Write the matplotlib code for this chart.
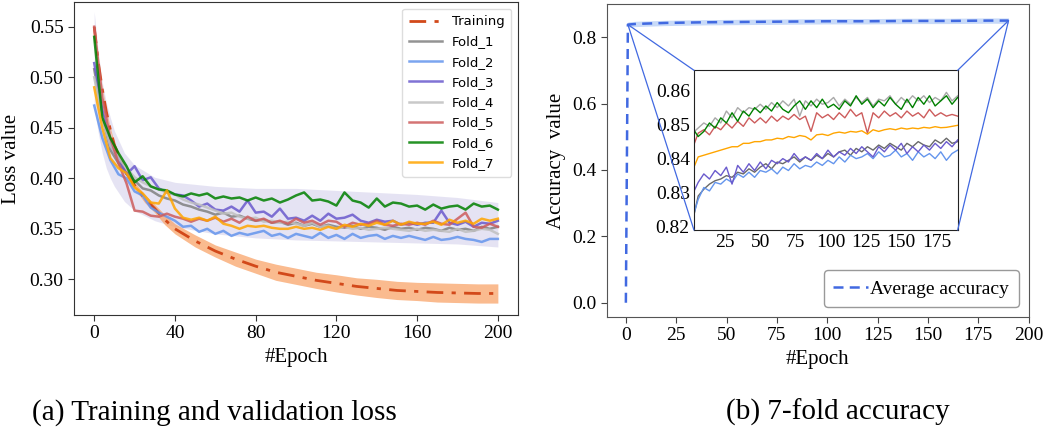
import numpy as np
import matplotlib
matplotlib.use("Agg")
import matplotlib.pyplot as plt
from matplotlib.patches import ConnectionPatch

plt.rcParams['font.family'] = 'Liberation Serif'

# ---------------- (a) loss data ----------------
fold_epochs = np.arange(0, 201, 4)

fold1 = [0.508, 0.462, 0.428, 0.415, 0.405, 0.398, 0.390, 0.388, 0.383, 0.380,
         0.378, 0.374, 0.372, 0.369, 0.367, 0.364, 0.366, 0.362, 0.363, 0.360,
         0.358, 0.359, 0.356, 0.357, 0.354, 0.356, 0.353, 0.355, 0.352, 0.354,
         0.352, 0.351, 0.353, 0.350, 0.352, 0.351, 0.349, 0.352, 0.350, 0.351,
         0.349, 0.351, 0.350, 0.348, 0.351, 0.349, 0.350, 0.348, 0.352, 0.350,
         0.352]
fold2 = [0.472, 0.440, 0.418, 0.404, 0.400, 0.387, 0.383, 0.371, 0.366, 0.362,
         0.358, 0.352, 0.353, 0.347, 0.350, 0.345, 0.348, 0.343, 0.346, 0.344,
         0.346, 0.348, 0.343, 0.345, 0.341, 0.345, 0.343, 0.341, 0.346, 0.341,
         0.344, 0.340, 0.345, 0.341, 0.343, 0.344, 0.340, 0.343, 0.341, 0.343,
         0.341, 0.339, 0.342, 0.339, 0.340, 0.342, 0.340, 0.339, 0.337, 0.340,
         0.340]
fold3 = [0.514, 0.468, 0.432, 0.420, 0.404, 0.412, 0.398, 0.401, 0.390, 0.386,
         0.384, 0.383, 0.378, 0.372, 0.375, 0.369, 0.368, 0.372, 0.367, 0.378,
         0.366, 0.367, 0.362, 0.370, 0.360, 0.361, 0.358, 0.363, 0.358, 0.365,
         0.360, 0.361, 0.364, 0.358, 0.356, 0.359, 0.357, 0.358, 0.354, 0.356,
         0.354, 0.356, 0.356, 0.368, 0.356, 0.354, 0.357, 0.352, 0.356, 0.355,
         0.358]
fold4 = [0.500, 0.460, 0.432, 0.420, 0.410, 0.401, 0.396, 0.392, 0.389, 0.386,
         0.384, 0.379, 0.376, 0.374, 0.371, 0.368, 0.365, 0.366, 0.362, 0.360,
         0.361, 0.357, 0.358, 0.356, 0.357, 0.355, 0.353, 0.356, 0.352, 0.353,
         0.350, 0.352, 0.350, 0.351, 0.349, 0.350, 0.351, 0.350, 0.349, 0.348,
         0.350, 0.348, 0.349, 0.348, 0.347, 0.350, 0.347, 0.348, 0.350, 0.349,
         0.345]
fold5 = [0.550, 0.480, 0.440, 0.415, 0.395, 0.368, 0.367, 0.363, 0.362, 0.365,
         0.362, 0.360, 0.357, 0.360, 0.358, 0.361, 0.357, 0.360, 0.356, 0.362,
         0.358, 0.360, 0.356, 0.358, 0.355, 0.360, 0.356, 0.358, 0.354, 0.358,
         0.357, 0.352, 0.356, 0.354, 0.355, 0.358, 0.354, 0.353, 0.355, 0.354,
         0.356, 0.354, 0.358, 0.355, 0.354, 0.360, 0.366, 0.352, 0.351, 0.355,
         0.352]
fold6 = [0.540, 0.460, 0.440, 0.425, 0.412, 0.396, 0.402, 0.392, 0.389, 0.388,
         0.384, 0.382, 0.385, 0.383, 0.385, 0.380, 0.382, 0.380, 0.381, 0.378,
         0.381, 0.378, 0.380, 0.376, 0.379, 0.383, 0.386, 0.378, 0.379, 0.377,
         0.373, 0.386, 0.378, 0.376, 0.371, 0.380, 0.372, 0.376, 0.375, 0.372,
         0.373, 0.369, 0.374, 0.370, 0.372, 0.373, 0.369, 0.375, 0.372, 0.373,
         0.369]
fold7 = [0.490, 0.450, 0.420, 0.410, 0.405, 0.391, 0.385, 0.376, 0.375, 0.388,
         0.370, 0.361, 0.359, 0.361, 0.358, 0.362, 0.355, 0.353, 0.350, 0.353,
         0.352, 0.353, 0.351, 0.350, 0.350, 0.352, 0.350, 0.351, 0.349, 0.352,
         0.350, 0.354, 0.352, 0.355, 0.353, 0.356, 0.354, 0.358, 0.354, 0.357,
         0.355, 0.355, 0.357, 0.354, 0.359, 0.356, 0.358, 0.355, 0.360, 0.358,
         0.360]
fold_loss = [fold1, fold2, fold3, fold4, fold5, fold6, fold7]
fold_names = ['Fold_1', 'Fold_2', 'Fold_3', 'Fold_4', 'Fold_5', 'Fold_6', 'Fold_7']
fold_colors = ['gray', 'cornflowerblue', 'slateblue', 'silver',
               'indianred', 'green', 'orange']

band_epochs = [0, 2, 4, 6, 8, 10, 15, 20, 30, 40, 60, 80, 100, 120, 140, 160, 180, 200]
band_hi = [0.565, 0.525, 0.495, 0.475, 0.460, 0.447, 0.425, 0.413, 0.401, 0.396,
           0.392, 0.390, 0.390, 0.388, 0.386, 0.384, 0.381, 0.376]
band_lo = [0.470, 0.445, 0.425, 0.410, 0.400, 0.392, 0.377, 0.368, 0.358, 0.352,
           0.345, 0.341, 0.339, 0.338, 0.337, 0.336, 0.335, 0.332]

train_epochs = [0, 2, 4, 6, 8, 10, 15, 20, 25, 30, 35, 40, 50, 60, 70, 80,
                90, 100, 110, 120, 130, 140, 150, 160, 170, 180, 190, 200]
train_loss = [0.550, 0.515, 0.488, 0.466, 0.448, 0.433, 0.408, 0.393, 0.380, 0.370,
              0.359, 0.350, 0.338, 0.328, 0.320, 0.313, 0.307, 0.303, 0.299, 0.296,
              0.293, 0.291, 0.289, 0.288, 0.287, 0.2865, 0.286, 0.286]
train_std = [0.002, 0.002, 0.002, 0.002, 0.002, 0.002, 0.003, 0.003, 0.004, 0.004,
             0.005, 0.005, 0.006, 0.006, 0.007, 0.007, 0.008, 0.008, 0.008, 0.0085,
             0.0085, 0.009, 0.009, 0.009, 0.0095, 0.0095, 0.0095, 0.0095]

# ---------------- (b) accuracy data ----------------
avg_epochs = [0, 1, 5, 10, 20, 30, 40, 60, 80, 100, 120, 140, 160, 180, 190]
avg_acc = [0.0, 0.838, 0.840, 0.841, 0.843, 0.844, 0.845, 0.846, 0.847, 0.848,
           0.848, 0.849, 0.849, 0.850, 0.850]
avg_std = [0.0, 0.008, 0.008, 0.008, 0.008, 0.008, 0.008, 0.008, 0.008, 0.008,
           0.008, 0.008, 0.008, 0.008, 0.008]

acc_epochs = np.arange(2, 191, 4)
acc_f1 = [0.8215, 0.829, 0.831, 0.8325, 0.8335, 0.834, 0.835, 0.8345, 0.836, 0.8355,
          0.837, 0.836, 0.8375, 0.8385, 0.837, 0.839, 0.8385, 0.8395, 0.8405, 0.839,
          0.8405, 0.8395, 0.841, 0.840, 0.8415, 0.8405, 0.842, 0.8425, 0.841, 0.843,
          0.842, 0.8435, 0.8425, 0.844, 0.843, 0.8445, 0.8435, 0.8425, 0.8445, 0.8435,
          0.845, 0.844, 0.8435, 0.8455, 0.8445, 0.846, 0.8445, 0.845]
acc_f2 = [0.8225, 0.828, 0.8315, 0.8305, 0.833, 0.8325, 0.834, 0.833, 0.8355, 0.8345,
          0.836, 0.8345, 0.8365, 0.836, 0.837, 0.8355, 0.8375, 0.8365, 0.8385, 0.837,
          0.838, 0.8375, 0.839, 0.838, 0.8395, 0.8385, 0.8405, 0.839, 0.841, 0.840,
          0.8405, 0.8415, 0.840, 0.842, 0.8405, 0.841, 0.8425, 0.8405, 0.8415, 0.8395,
          0.842, 0.8405, 0.8415, 0.840, 0.842, 0.8395, 0.8415, 0.8425]
acc_f3 = [0.8295, 0.833, 0.8355, 0.834, 0.8365, 0.835, 0.8375, 0.8325, 0.838, 0.836,
          0.8385, 0.8365, 0.839, 0.837, 0.8395, 0.8385, 0.840, 0.839, 0.8415, 0.8395,
          0.8405, 0.8395, 0.8415, 0.840, 0.8425, 0.8405, 0.842, 0.841, 0.843, 0.8415,
          0.8435, 0.842, 0.8405, 0.8435, 0.842, 0.844, 0.8425, 0.8445, 0.8415, 0.8435,
          0.842, 0.844, 0.8425, 0.8445, 0.843, 0.845, 0.8435, 0.8455]
acc_f4 = [0.8475, 0.849, 0.8505, 0.8495, 0.852, 0.8505, 0.854, 0.852, 0.855, 0.8535,
          0.855, 0.8545, 0.856, 0.8545, 0.8565, 0.855, 0.857, 0.8555, 0.8575, 0.8525,
          0.857, 0.8555, 0.8575, 0.856, 0.8565, 0.858, 0.8555, 0.8575, 0.856, 0.858,
          0.8565, 0.858, 0.8555, 0.8575, 0.857, 0.8585, 0.856, 0.858, 0.8565, 0.8585,
          0.857, 0.8585, 0.8565, 0.858, 0.857, 0.8595, 0.857, 0.8585]
acc_f5 = [0.843, 0.8475, 0.8485, 0.847, 0.8495, 0.8485, 0.8505, 0.849, 0.851, 0.8495,
          0.852, 0.8505, 0.852, 0.8505, 0.8525, 0.851, 0.8525, 0.8515, 0.853, 0.8515,
          0.8525, 0.848, 0.8535, 0.852, 0.853, 0.8515, 0.8535, 0.852, 0.8545, 0.8525,
          0.8535, 0.8475, 0.8535, 0.852, 0.854, 0.8525, 0.8535, 0.852, 0.854, 0.8525,
          0.8535, 0.852, 0.8545, 0.8525, 0.8535, 0.8525, 0.853, 0.8525]
acc_f6 = [0.849, 0.8465, 0.848, 0.8505, 0.849, 0.852, 0.8505, 0.8535, 0.851, 0.854,
          0.8525, 0.855, 0.8535, 0.8555, 0.854, 0.8565, 0.8545, 0.8535, 0.8555, 0.857,
          0.8545, 0.857, 0.855, 0.8575, 0.855, 0.856, 0.8545, 0.857, 0.8555, 0.8585,
          0.856, 0.8575, 0.855, 0.857, 0.8555, 0.858, 0.856, 0.8545, 0.8575, 0.855,
          0.858, 0.856, 0.8585, 0.8555, 0.857, 0.8585, 0.856, 0.858]
acc_f7 = [0.8365, 0.8405, 0.841, 0.8415, 0.842, 0.8425, 0.843, 0.8435, 0.8435, 0.8445,
          0.8445, 0.845, 0.845, 0.8455, 0.8455, 0.846, 0.8458, 0.8465, 0.8462, 0.8468,
          0.8465, 0.8455, 0.847, 0.8472, 0.8468, 0.8475, 0.8478, 0.8475, 0.848, 0.8478,
          0.8482, 0.8472, 0.8485, 0.848, 0.8485, 0.8488, 0.8485, 0.849, 0.8487, 0.849,
          0.8488, 0.8492, 0.849, 0.8494, 0.8491, 0.8492, 0.8495, 0.8498]
fold_acc = [acc_f1, acc_f2, acc_f3, acc_f4, acc_f5, acc_f6, acc_f7]
acc_colors = ['dimgray', 'cornflowerblue', 'slateblue', 'darkgray',
              'indianred', 'green', 'orange']

fig = plt.figure(figsize=(10.47, 4.40), dpi=100)

# ---------------- (a) ----------------
ax1 = fig.add_axes([0.0707, 0.2841, 0.4241, 0.7114])
ax1.fill_between(band_epochs, band_lo, band_hi, color='#cdc9e8', alpha=0.5, lw=0)
ax1.fill_between(train_epochs, np.array(train_loss) - np.array(train_std),
                 np.array(train_loss) + np.array(train_std),
                 color='#f9a46a', alpha=0.75, lw=0)
ax1.plot(train_epochs, train_loss, color='#d2491a', lw=2, ls=(0, (6, 3, 1.5, 3)),
         label='Training')
for vals, name, col in zip(fold_loss, fold_names, fold_colors):
    ax1.plot(fold_epochs, vals, color=col, lw=1.8, alpha=0.85, label=name)

ax1.set_xlim(-10, 210)
ax1.set_ylim(0.2647, 0.5745)
ax1.set_xticks([0, 40, 80, 120, 160, 200])
ax1.set_yticks([0.30, 0.35, 0.40, 0.45, 0.50, 0.55])
ax1.set_yticklabels(['0.30', '0.35', '0.40', '0.45', '0.50', '0.55'])
ax1.tick_params(labelsize=14, color='#333333', length=4)
for s in ax1.spines.values():
    s.set_color('#333333')
ax1.set_xlabel('#Epoch', fontsize=15, labelpad=4)
ax1.set_ylabel('Loss value', fontsize=15, labelpad=6)
ax1.legend(loc='upper right', prop={'family': 'DejaVu Sans', 'size': 9.5},
           handlelength=2.5, labelspacing=0.55, borderpad=0.5,
           framealpha=1, edgecolor='#dddddd')

# ---------------- (b) ----------------
ax2 = fig.add_axes([0.5795, 0.2795, 0.4030, 0.7114])
lo = np.array(avg_acc) - np.array(avg_std)
hi = np.array(avg_acc) + np.array(avg_std)
ax2.fill_between(avg_epochs[1:], lo[1:], hi[1:], color='cornflowerblue', alpha=0.35, lw=0)
ax2.plot(avg_epochs, avg_acc, color='royalblue', lw=1.8, ls=(0, (4, 2.5)),
         label='Average accuracy')
ax2.set_xlim(-9.5, 200)
ax2.set_ylim(-0.043, 0.9)
ax2.set_xticks([0, 25, 50, 75, 100, 125, 150, 175, 200])
ax2.set_yticks([0.0, 0.2, 0.4, 0.6, 0.8])
ax2.tick_params(labelsize=14, color='#444444', length=4)
for s in ax2.spines.values():
    s.set_color('#555555')
ax2.set_xlabel('#Epoch', fontsize=15, labelpad=4)
ax2.set_ylabel('Accuracy  value', fontsize=15, labelpad=4)
ax2.legend(loc='lower right', prop={'size': 14}, handlelength=1.8, handletextpad=0.1,
           borderpad=0.5, framealpha=1, edgecolor='#999999', fancybox=True)

axin = fig.add_axes([0.6628, 0.4773, 0.2519, 0.3630])
for vals, col in zip(fold_acc, acc_colors):
    axin.plot(acc_epochs, vals, color=col, lw=1.0)
axin.set_xlim(3, 190)
axin.set_ylim(0.819, 0.866)
axin.set_xticks([25, 50, 75, 100, 125, 150, 175])
axin.set_yticks([0.82, 0.83, 0.84, 0.85, 0.86])
axin.tick_params(labelsize=14, length=0, pad=3)
for s in axin.spines.values():
    s.set_color('#222222')

# connector lines from the inset corners to the zoomed span of the average curve
x0, x1 = avg_epochs[1], avg_epochs[-1]
y0, y1 = avg_acc[1], avg_acc[-1]
for xy_in, xy_main in [((0, 1), (x0, y0)), ((0, 0), (x0, y0)),
                       ((1, 1), (x1, y1)), ((1, 0), (x1, y1))]:
    con = ConnectionPatch(xyA=xy_in, coordsA=axin.transAxes,
                          xyB=xy_main, coordsB=ax2.transData,
                          color='royalblue', lw=0.9)
    fig.add_artist(con)

# captions
fig.text(0.205, 0.062, '(a) Training and validation loss', fontsize=21,
         ha='center', va='center')
fig.text(0.8, 0.062, '(b) 7-fold accuracy', fontsize=21, ha='center', va='center')

fig.savefig('out.png', dpi=100)
